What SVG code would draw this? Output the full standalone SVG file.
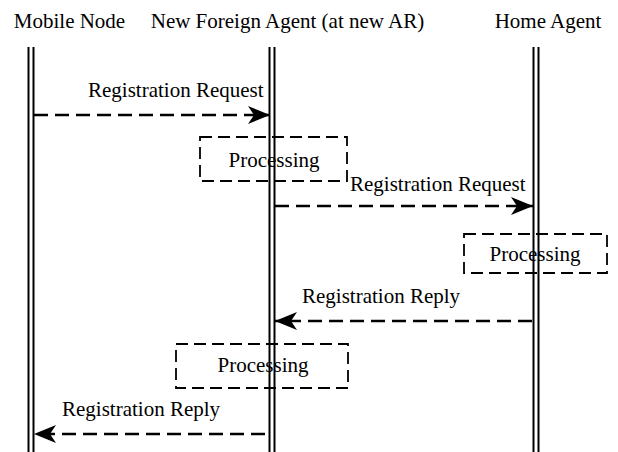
<svg xmlns="http://www.w3.org/2000/svg" width="618" height="452" viewBox="0 0 618 452">
<style>
text{font-family:"Liberation Serif","Times New Roman",serif;font-size:21px;fill:#000}
.life{stroke:#000;stroke-width:2;fill:none}
.msg{stroke:#000;stroke-width:2.5;fill:none;stroke-dasharray:14,7}
.box{stroke:#000;stroke-width:1.8;fill:none;stroke-dasharray:12,6}
</style>
<defs>
<marker id="ah" viewBox="0 0 22 18" refX="22" refY="9" markerWidth="22" markerHeight="18" markerUnits="userSpaceOnUse" orient="auto">
<path d="M0,0 L22,9 L0,18 L6,9 Z" fill="#000"/>
</marker>
</defs>
<g id="mobile-node">
<text x="69.5" y="28" text-anchor="middle">Mobile Node</text>
<line class="life" x1="28.5" y1="47" x2="28.5" y2="452"/>
<line class="life" x1="33.5" y1="47" x2="33.5" y2="452"/>
</g>
<g id="foreign-agent">
<text x="287.5" y="28" text-anchor="middle">New Foreign Agent (at new AR)</text>
<line class="life" x1="269.5" y1="47" x2="269.5" y2="452"/>
<line class="life" x1="274.5" y1="47" x2="274.5" y2="452"/>
</g>
<g id="home-agent">
<text x="548" y="28" text-anchor="middle">Home Agent</text>
<line class="life" x1="533.5" y1="47" x2="533.5" y2="452"/>
<line class="life" x1="538.5" y1="47" x2="538.5" y2="452"/>
</g>
<g id="proc1">
<rect class="box" x="200" y="137" width="147" height="44"/>
<text x="274" y="167" text-anchor="middle">Processing</text>
</g>
<g id="proc2">
<rect class="box" x="464" y="234" width="143" height="39"/>
<text x="535" y="261" text-anchor="middle">Processing</text>
</g>
<g id="proc3">
<rect class="box" x="176" y="344" width="172" height="44"/>
<text x="263" y="372" text-anchor="middle">Processing</text>
</g>
<g id="connectors">
<line class="msg" x1="34" y1="115" x2="270" y2="115" marker-end="url(#ah)"/>
<text x="88" y="97">Registration Request</text>
<line class="msg" x1="275" y1="206" x2="533" y2="206" marker-end="url(#ah)"/>
<text x="350" y="191">Registration Request</text>
<line class="msg" x1="532" y1="321" x2="275" y2="321" marker-end="url(#ah)"/>
<text x="302" y="303">Registration Reply</text>
<line class="msg" x1="265" y1="434" x2="34" y2="434" marker-end="url(#ah)"/>
<text x="62" y="416">Registration Reply</text>
</g>
</svg>
